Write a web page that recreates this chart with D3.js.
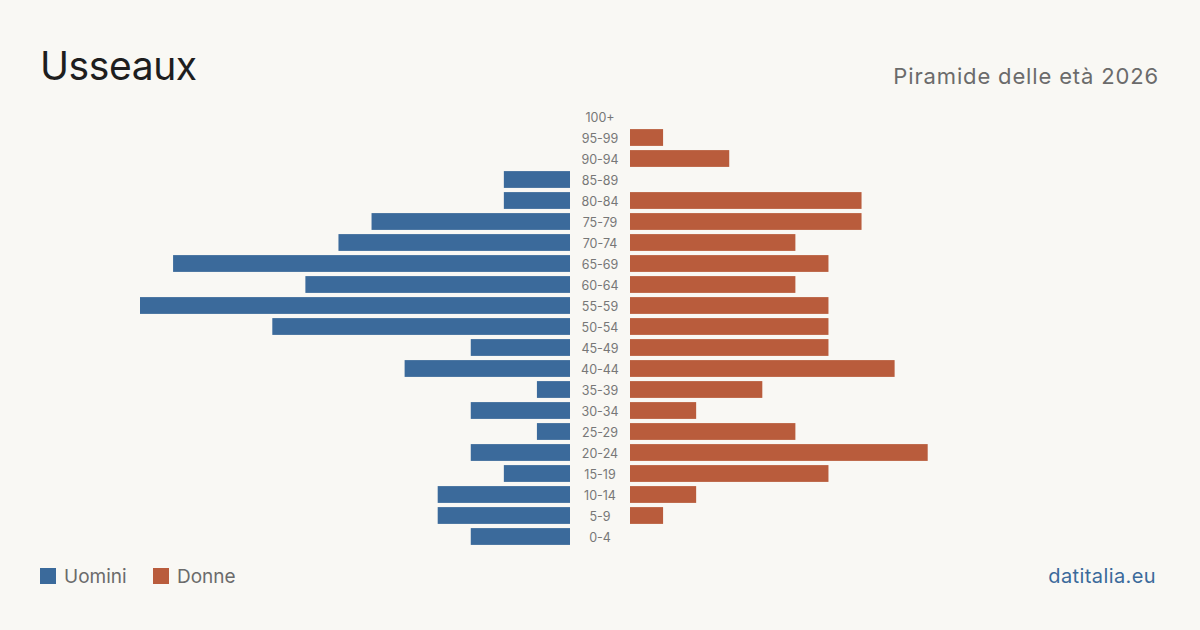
<!DOCTYPE html>
<html><head><meta charset="utf-8">
<script src="https://cdn.jsdelivr.net/npm/d3@7"></script>
<style>
html,body{margin:0;padding:0;background:#f9f8f4;}
svg{display:block;font-family:Inter,"Noto Sans",sans-serif;}
</style></head>
<body>
<svg id="c" width="1200" height="630"></svg>
<script>
const ageGroups = ["100+","95-99","90-94","85-89","80-84","75-79","70-74","65-69","60-64","55-59","50-54","45-49","40-44","35-39","30-34","25-29","20-24","15-19","10-14","5-9","0-4"];
const men   = [0,0,0,2,2,6,7,12,8,13,9,3,5,1,3,1,3,2,4,4,3];
const women = [0,1,3,0,7,7,5,6,5,6,6,6,8,4,2,5,9,6,2,1,0];
const title = "Usseaux";
const subtitle = "Piramide delle età 2026";
const legendLabels = ["Uomini","Donne"];
const source = "datitalia.eu";

const colMen = "#3b6a9b", colWomen = "#b95c3c";
const svg = d3.select("#c");
svg.append("rect").attr("width",1200).attr("height",630).attr("fill","#f9f8f4");

const maxV = d3.max([...men,...women]);
const xL = d3.scaleLinear().domain([0,maxV]).range([570,140]);
const xR = d3.scaleLinear().domain([0,maxV]).range([630,1060]);
const y = d3.scaleBand().domain(ageGroups).range([106,547]).paddingInner(0.2).paddingOuter(0.1);

svg.append("g").selectAll("rect").data(ageGroups).join("rect")
  .attr("x",(d,i)=>xL(men[i])).attr("y",d=>y(d))
  .attr("width",(d,i)=>xL(0)-xL(men[i])).attr("height",y.bandwidth())
  .attr("fill",colMen);
svg.append("g").selectAll("rect").data(ageGroups).join("rect")
  .attr("x",xR(0)).attr("y",d=>y(d))
  .attr("width",(d,i)=>xR(women[i])-xR(0)).attr("height",y.bandwidth())
  .attr("fill",colWomen);

svg.append("g").selectAll("text").data(ageGroups).join("text")
  .attr("x",600).attr("y",d=>y(d)+y.bandwidth()/2+1)
  .attr("dy","0.35em").attr("text-anchor","middle")
  .attr("font-size",12.5).attr("fill","#777").text(d=>d);

svg.append("text").attr("x",40).attr("y",80).attr("font-size",39).attr("letter-spacing",-0.4).attr("fill","#1e1e1e").text(title);
svg.append("text").attr("x",1159).attr("y",84).attr("text-anchor","end").attr("font-size",22).attr("letter-spacing",0.85).attr("fill","#6b6b6b").text(subtitle);

const lg = [{x:40,c:colMen,t:legendLabels[0]},{x:153,c:colWomen,t:legendLabels[1]}];
lg.forEach(l=>{
  svg.append("rect").attr("x",l.x).attr("y",568).attr("width",16).attr("height",16).attr("fill",l.c);
  svg.append("text").attr("x",l.x+24).attr("y",583).attr("font-size",19).attr("fill","#6b6b6b").text(l.t);
});
svg.append("text").attr("x",1156).attr("y",583).attr("text-anchor","end").attr("font-size",20).attr("letter-spacing",0.4).attr("fill","#3b6a9b").text(source);
</script>
</body></html>
